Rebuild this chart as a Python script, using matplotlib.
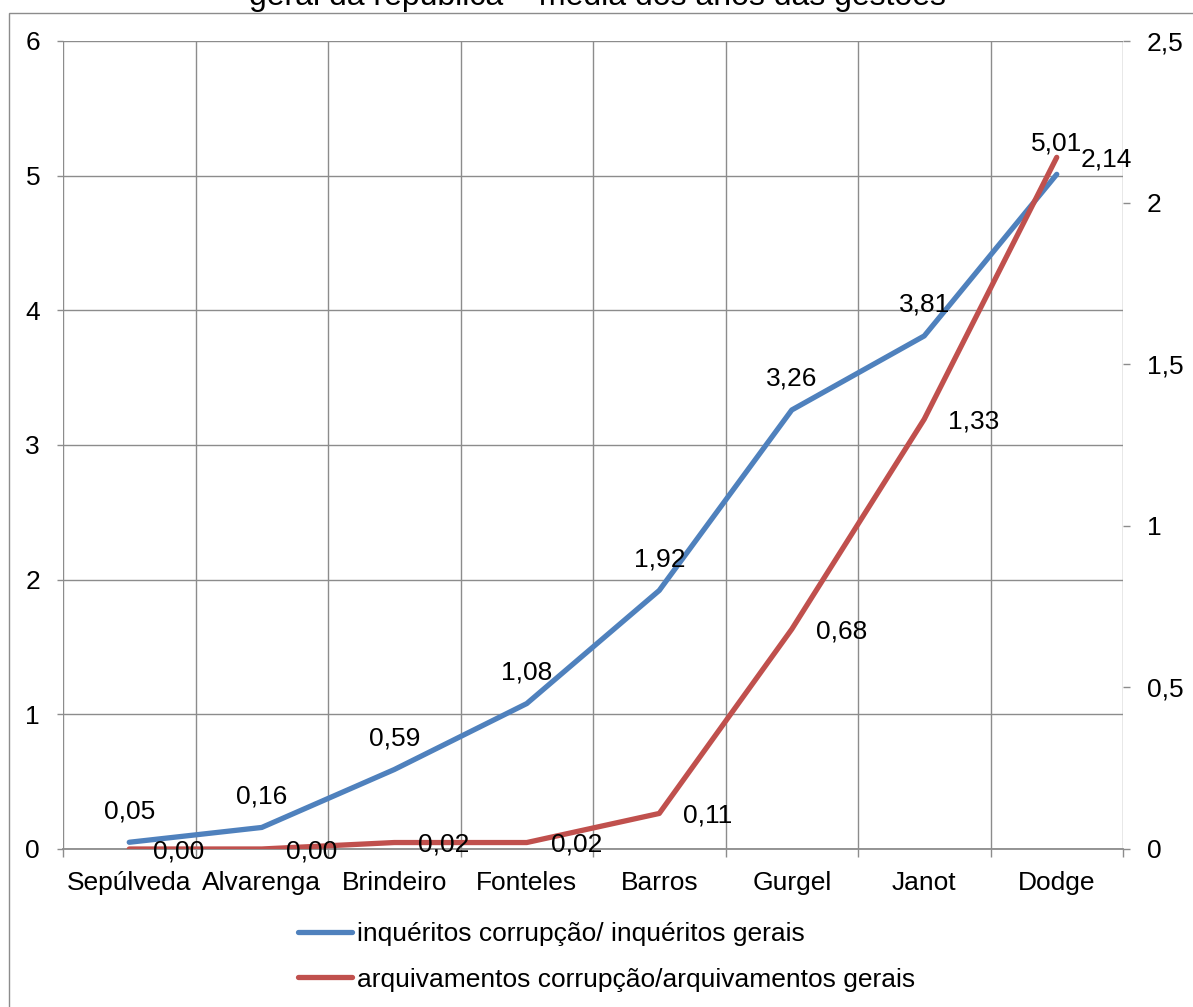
import matplotlib
matplotlib.use("Agg")
import matplotlib.pyplot as plt
from matplotlib.ticker import FuncFormatter, MultipleLocator, FixedLocator
from matplotlib.patches import Rectangle

plt.rcParams['font.family'] = ['Liberation Sans', 'DejaVu Sans']

gestoes = ["Sepúlveda", "Alvarenga", "Brindeiro", "Fonteles", "Barros", "Gurgel", "Janot", "Dodge"]
inqueritos = [0.05, 0.16, 0.59, 1.08, 1.92, 3.26, 3.81, 5.01]
arquivamentos = [0.00, 0.00, 0.02, 0.02, 0.11, 0.68, 1.33, 2.14]
nome_inq = "inquéritos corrupção/ inquéritos gerais"
nome_arq = "arquivamentos corrupção/arquivamentos gerais"
titulo = "geral da república – média dos anos das gestões"

AZUL = "#4F81BD"
VERMELHO = "#C0504D"
CINZA = "#8C8C8C"
FS = 19

W, H = 1193, 1007
fig = plt.figure(figsize=(W / 100, H / 100), dpi=100)
ax = fig.add_axes([63 / W, 1 - 849 / H, (1123 - 63) / W, (849 - 41) / H])
ax2 = ax.twinx()

x = list(range(len(gestoes)))


def virgula(v, pos=None):
    return ("%g" % v).replace(".", ",")


l1, = ax.plot(x, inqueritos, color=AZUL, lw=3.8, solid_capstyle="round", zorder=3)
l2, = ax2.plot(x, arquivamentos, color=VERMELHO, lw=3.8, solid_capstyle="round", zorder=3)

for xi, v in zip(x, inqueritos):
    ax.annotate(f"{v:.2f}".replace(".", ","), (xi, v), xytext=(0, 31),
                textcoords="offset pixels", ha="center", va="center", fontsize=FS)
for xi, v in zip(x, arquivamentos):
    ax2.annotate(f"{v:.2f}".replace(".", ","), (xi, v), xytext=(24, -2),
                 textcoords="offset pixels", ha="left", va="center", fontsize=FS)

ax.set_xlim(-0.5, len(gestoes) - 0.5)
ax.set_ylim(0, 6)
ax2.set_ylim(0, 2.5)

ax.yaxis.set_major_locator(MultipleLocator(1))
ax2.yaxis.set_major_locator(MultipleLocator(0.5))
ax2.yaxis.set_major_formatter(FuncFormatter(virgula))

ax.set_xticks(x)
ax.set_xticklabels(gestoes)
ax.xaxis.set_minor_locator(FixedLocator([i - 0.5 for i in range(len(gestoes) + 1)]))

ax.grid(True, which="minor", axis="x", color=CINZA, lw=1.0)
ax.grid(True, which="major", axis="y", color=CINZA, lw=1.0)
ax.set_axisbelow(True)

for a in (ax, ax2):
    for s in a.spines.values():
        s.set_visible(False)
ax.spines["bottom"].set_visible(True)
ax.spines["bottom"].set_color(CINZA)
ax.spines["bottom"].set_linewidth(1.3)

ax.tick_params(axis="x", which="major", length=0, pad=16, labelsize=FS)
ax.tick_params(axis="x", which="minor", length=6, color=CINZA, width=1.0)
ax.tick_params(axis="y", length=4.5, color=CINZA, width=1.0, pad=12, labelsize=FS)
ax2.tick_params(axis="y", length=5, color=CINZA, width=1.0, pad=12, labelsize=FS)

fig.legend([l1, l2], [nome_inq, nome_arq], loc="center left",
           bbox_to_anchor=(298 / W, 1 - 957 / H), frameon=False, fontsize=FS,
           handlelength=2.05, handletextpad=0.2, labelspacing=0.8,
           borderpad=0, borderaxespad=0)

fig.text(597 / W, 1 - 5 / H, titulo, ha="center", va="baseline", fontsize=23)

fig.patches.append(Rectangle((8.5 / W, -0.05), (W + 20) / W, 1.05 - 13 / H,
                             transform=fig.transFigure, fill=False,
                             edgecolor=CINZA, lw=1.0))

fig.savefig("out.png", dpi=100)
